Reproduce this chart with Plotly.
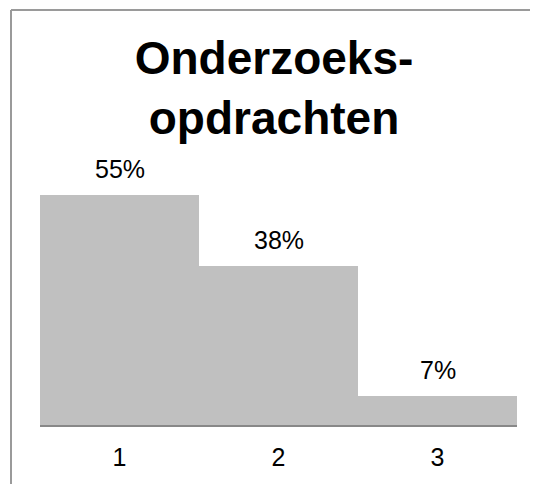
import plotly.graph_objects as go

categories = ["1", "2", "3"]
values = [0.55, 0.38, 0.07]
labels = ["55%", "38%", "7%"]
title_text = "Onderzoeks-<br>opdrachten"

# the page body has an 8px margin, so the figure is sized to fit the window
W, H = 530, 476
ml, mr, mt, mb = 32, 21, 142, 59
pw, ph = W - ml - mr, H - mt - mb

def px_x(p):
    return (p - ml) / pw

def px_y(p):
    return (H - mb - p) / ph

fig = go.Figure()
fig.add_trace(go.Bar(
    x=categories, y=values,
    marker=dict(color="#c0c0c0", line=dict(width=0)),
    hoverinfo="skip",
))

for i, (v, t) in enumerate(zip(values, labels)):
    fig.add_annotation(x=i, y=v, text=t, showarrow=False, yanchor="bottom",
                       yshift=10, font=dict(family="Liberation Sans, Arial", size=25, color="#000"))

frame = "#9a9a9a"
fig.add_shape(type="line", xref="paper", yref="paper", x0=px_x(3), x1=px_x(W + 5),
              y0=px_y(2), y1=px_y(2), line=dict(color=frame, width=2))
fig.add_shape(type="line", xref="paper", yref="paper", x0=px_x(3), x1=px_x(3),
              y0=px_y(2), y1=px_y(H + 5), line=dict(color=frame, width=2))

fig.update_layout(
    width=W, height=H,
    margin=dict(l=ml, r=mr, t=mt, b=mb),
    paper_bgcolor="white", plot_bgcolor="white",
    bargap=0,
    showlegend=False,
    title=dict(text=title_text, x=266 / W, xanchor="center", y=1 - 66 / H, yanchor="top",
               font=dict(family="Liberation Sans, Arial", size=46, color="#000", weight="bold")),
    xaxis=dict(type="category", range=[-0.5, 2.5], showgrid=False, zeroline=False,
               showline=True, linecolor="#888888", linewidth=2,
               ticks="outside", ticklen=9, tickcolor="rgba(0,0,0,0)",
               tickfont=dict(family="Liberation Sans, Arial", size=25, color="#000")),
    yaxis=dict(range=[0, ph / 418.2], visible=False, showgrid=False, zeroline=False),
)

fig.write_html("out.html")
